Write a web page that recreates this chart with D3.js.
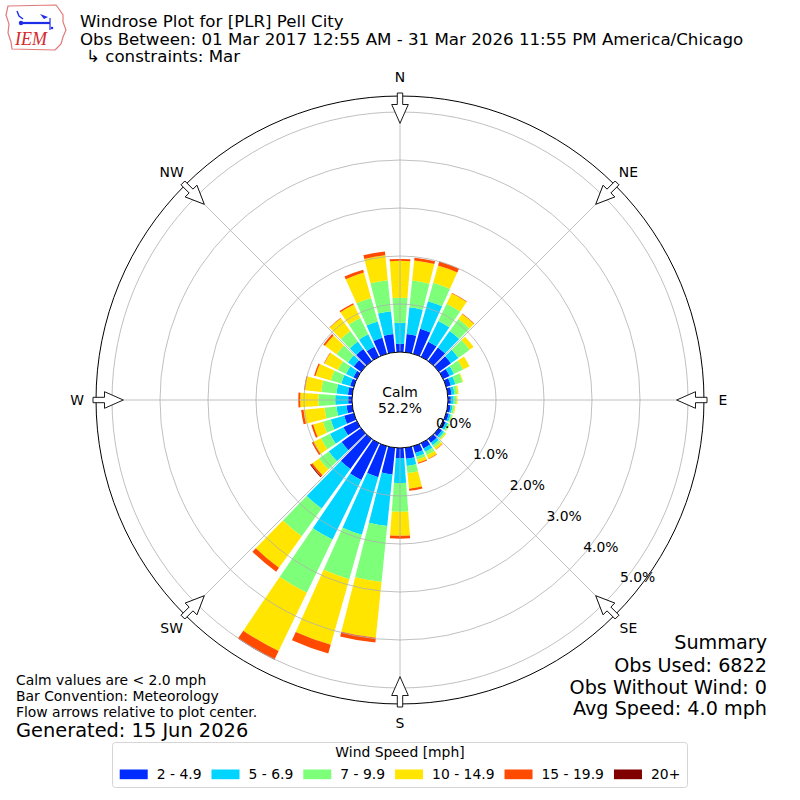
<!DOCTYPE html>
<html><head><meta charset="utf-8">
<script src="https://cdn.jsdelivr.net/npm/d3@7"></script>
<style>
html,body{margin:0;padding:0;background:#fff;}
svg{display:block;font-family:"DejaVu Sans",sans-serif;}
</style></head>
<body>
<svg id="chart" width="800" height="800"></svg>
<script>
// ---------- DATA ----------
const directions = d3.range(0, 360, 10);
const speedBins = ["2 - 4.9", "5 - 6.9", "7 - 9.9", "10 - 14.9", "15 - 19.9", "20+"];
const binColors = ["#002cff", "#00d4ff", "#7dff7a", "#ffe500", "#ff4a00", "#800000"];
const s2to5 = [0.17,0.38,0.54,0.35,0.35,0.31,0.15,0.10,0.08,0.06,0.06,0.06,0.06,0.08,0.10,0.12,0.15,0.23,0.21,0.56,0.67,0.85,0.77,0.50,0.31,0.21,0.12,0.08,0.09,0.08,0.08,0.19,0.31,0.23,0.35,0.38];
const s5to7 = [0.44,0.56,0.60,0.48,0.42,0.19,0.10,0.10,0.06,0.06,0.04,0.04,0.05,0.05,0.06,0.08,0.08,0.15,0.52,1.08,1.25,1.38,1.02,0.33,0.31,0.29,0.21,0.27,0.24,0.19,0.17,0.15,0.19,0.29,0.35,0.48];
const s7to10 = [0.52,0.56,0.40,0.40,0.31,0.29,0.21,0.15,0.06,0.06,0.04,0.03,0.04,0.04,0.06,0.08,0.06,0.15,0.60,1.17,0.96,1.23,0.71,0.25,0.21,0.17,0.25,0.35,0.32,0.23,0.19,0.29,0.27,0.38,0.51,0.65];
const s10to15 = [0.77,0.42,0.37,0.24,0.13,0.10,0.15,0.02,0.03,0.02,0.02,0.01,0.01,0.02,0.05,0.08,0.07,0.33,0.50,1.17,1.42,1.35,0.81,0.17,0.17,0.21,0.44,0.38,0.34,0.33,0.31,0.30,0.33,0.31,0.55,0.52];
const s15to20 = [0.04,0.06,0.09,0.01,0.01,0,0,0,0,0,0,0,0,0,0.01,0.01,0.02,0.04,0.06,0.10,0.19,0.19,0.10,0.04,0.04,0.04,0.05,0.04,0.02,0.03,0.01,0.04,0.01,0.03,0.06,0.08];
const s20plus = [0,0,0,0,0,0,0,0,0,0,0,0,0,0,0,0,0,0,0,0,0,0.01,0,0.02,0,0,0,0,0,0,0,0,0,0,0,0];
const seriesList = [s2to5, s5to7, s7to10, s10to15, s15to20, s20plus];
const rTicks = [0, 1, 2, 3, 4, 5];
const compass = [["N",0],["NE",45],["E",90],["SE",135],["S",180],["SW",225],["W",270],["NW",315]];
const calmPct = "52.2%";
const titleLines = ["Windrose Plot for [PLR] Pell City",
  "Obs Between: 01 Mar 2017 12:55 AM - 31 Mar 2026 11:55 PM America/Chicago",
  "\u21b3 constraints: Mar"];
const noteLines = ["Calm values are < 2.0 mph", "Bar Convention: Meteorology", "Flow arrows relative to plot center."];
const generated = "Generated: 15 Jun 2026";
const summaryLines = ["Summary", "Obs Used: 6822", "Obs Without Wind: 0", "Avg Speed: 4.0 mph"];

// ---------- SETUP ----------
const svg = d3.select("#chart");
const cx = 400, cy = 400;
const r = d3.scaleLinear().domain([0, 5]).range([48, 288]);
const outerR = r(5.333);
const deg = Math.PI / 180;
const g = svg.append("g").attr("transform", `translate(${cx},${cy})`);

// outer frame
g.append("circle").attr("r", outerR).attr("fill", "#fff").attr("stroke", "#000").attr("stroke-width", 1);

// bars
const stacked = directions.map((d, i) => {
  let acc = 0;
  return seriesList.map((s, k) => { const lo = acc; acc += s[i]; return {dir: d, k, lo, hi: acc}; });
});
const halfW = 4.2 * deg;
const arc = d3.arc();
g.append("g").selectAll("g").data(stacked).join("g")
  .selectAll("path").data(d => d.filter(s => s.hi > s.lo)).join("path")
  .attr("d", s => arc({innerRadius: r(s.lo), outerRadius: r(s.hi), startAngle: s.dir * deg - halfW, endAngle: s.dir * deg + halfW}))
  .attr("fill", s => binColors[s.k]);

// grid (drawn above bars)
const grid = g.append("g").attr("fill", "none").attr("stroke", "#b0b0b0").attr("stroke-width", 0.8);
rTicks.filter(t => t > 0).forEach(t => grid.append("circle").attr("r", r(t)));
compass.forEach(([, a]) => {
  const ang = a * deg;
  grid.append("line")
    .attr("x1", r(0) * Math.sin(ang)).attr("y1", -r(0) * Math.cos(ang))
    .attr("x2", outerR * Math.sin(ang)).attr("y2", -outerR * Math.cos(ang));
});

// calm circle
g.append("circle").attr("r", r(0)).attr("fill", "#fff").attr("stroke", "#000").attr("stroke-width", 1);
g.append("text").attr("text-anchor", "middle").attr("y", -3).attr("font-size", 13.9).text("Calm");
g.append("text").attr("text-anchor", "middle").attr("y", 13).attr("font-size", 13.9).text(calmPct);

// radial labels
const la = 40 * deg;
g.append("g").selectAll("text").data(rTicks).join("text")
  .attr("text-anchor", "middle").attr("font-size", 13.9)
  .attr("x", t => r(t) * Math.cos(la) + 17)
  .attr("y", t => r(t) * Math.sin(la) - 7.7 + 5)
  .text(t => t.toFixed(1) + "%");

// flow arrows
const arrowPts = [[-2.7, -307], [2.7, -307], [2.7, -295.5], [8.3, -295.5], [0, -276.7], [-8.3, -295.5], [-2.7, -295.5]];
g.append("g").selectAll("polygon").data(compass).join("polygon")
  .attr("points", arrowPts.map(p => p.join(",")).join(" "))
  .attr("transform", d => `rotate(${d[1]})`)
  .attr("fill", "#fff").attr("stroke", "#000").attr("stroke-width", 0.9);

// compass labels
g.append("g").selectAll("text").data(compass).join("text")
  .attr("text-anchor", "middle").attr("font-size", 13.9)
  .attr("x", d => 323 * Math.sin(d[1] * deg))
  .attr("y", d => -323 * Math.cos(d[1] * deg) + 5)
  .text(d => d[0]);

// titles
const titleY = [26.5, 44.5, 62];
svg.append("g").selectAll("text").data(titleLines).join("text")
  .attr("x", (d, i) => i === 2 ? 86 : 80).attr("y", (d, i) => titleY[i])
  .attr("font-size", 16.67).text(d => d);

// notes
const noteY = [685, 701, 717];
svg.append("g").selectAll("text").data(noteLines).join("text")
  .attr("x", 16).attr("y", (d, i) => noteY[i]).attr("font-size", 13.9).text(d => d);
svg.append("text").attr("x", 16).attr("y", 737).attr("font-size", 19.4).text(generated);

// summary
const sumY = [649, 671.5, 693.5, 715];
svg.append("g").selectAll("text").data(summaryLines).join("text")
  .attr("x", 767).attr("y", (d, i) => sumY[i]).attr("text-anchor", "end")
  .attr("font-size", 19.2).text(d => d);

// legend
const leg = svg.append("g");
leg.append("rect").attr("x", 112.5).attr("y", 742.5).attr("width", 575).attr("height", 45)
  .attr("rx", 3).attr("fill", "#fff").attr("stroke", "#d5d5d5").attr("stroke-width", 1);
leg.append("text").attr("x", 400).attr("y", 757).attr("text-anchor", "middle").attr("font-size", 13.9).text("Wind Speed [mph]");
const items = leg.append("g");
let xpos = 0;
speedBins.forEach((lab, i) => {
  const it = items.append("g");
  it.append("rect").attr("x", xpos).attr("y", 769.5).attr("width", 28).attr("height", 9.7).attr("fill", binColors[i]);
  const t = it.append("text").attr("x", xpos + 28 + 9).attr("y", 779).attr("font-size", 13.9).text(lab);
  const w = t.node().getComputedTextLength();
  xpos += 28 + 9 + w + (i < speedBins.length - 1 ? 10 : 0);
});
items.attr("transform", `translate(${400 - xpos / 2},0)`);

// IEM logo
const logo = svg.append("g");
logo.append("path")
  .attr("d", "M8,6 L56,5 L59,9 L63,15 L63,22 L66,30 L63,37 L61,44 L57,48 L55,50 L12,49 L11,42 L8,33 L9,24 L6,15 Z")
  .attr("fill", "none").attr("stroke", "#e07a7a").attr("stroke-width", 1.2);
const blue = "#1e2ee8";
logo.append("line").attr("x1", 22).attr("y1", 23).attr("x2", 50).attr("y2", 23).attr("stroke", blue).attr("stroke-width", 2.2);
logo.append("circle").attr("cx", 21).attr("cy", 23).attr("r", 2.2).attr("fill", blue);
logo.append("path").attr("d", "M17,11 L19,16 L23,19").attr("fill", "none").attr("stroke", blue).attr("stroke-width", 1.4);
logo.append("path").attr("d", "M40,14 L48,17 L44,19 Z").attr("fill", blue);
logo.append("line").attr("x1", 50).attr("y1", 18).attr("x2", 50).attr("y2", 30).attr("stroke", blue).attr("stroke-width", 1.2);
logo.append("circle").attr("cx", 52).attr("cy", 28).attr("r", 1.3).attr("fill", blue);
logo.append("text").attr("x", 15).attr("y", 45).attr("font-family", "Liberation Serif, serif")
  .attr("font-style", "italic").attr("font-size", 18).attr("fill", "#d42a2a").text("IEM");
</script>
</body></html>
